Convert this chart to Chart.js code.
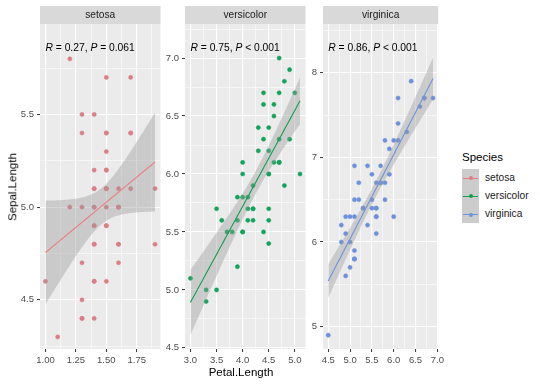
<!DOCTYPE html>
<html><head><meta charset="utf-8">
<script src="https://cdn.jsdelivr.net/npm/chart.js@4/dist/chart.umd.min.js"></script>
<style>
body{margin:0;background:#fff;width:540px;height:386px;position:relative;overflow:hidden;font-family:"Liberation Sans",Arial,sans-serif;}
canvas{position:absolute;top:0;}
.t{position:absolute;white-space:nowrap;line-height:1;}
.key{position:absolute;left:462px;width:17px;height:18.3px;background:#cccccc;}
.kl{position:absolute;left:1px;right:1px;top:9px;height:1px;}
.kp{position:absolute;left:6.5px;top:7.5px;width:4px;height:4px;border-radius:50%;}
</style></head><body>
<canvas id="c0" width="165" height="386" style="left:0px"></canvas>
<canvas id="c1" width="148" height="386" style="left:162px"></canvas>
<canvas id="c2" width="137" height="386" style="left:310px"></canvas>

<div class="t" id="ytitle" style="font-size:11.5px;color:#000;">Sepal.Length</div>
<div class="t" id="xtitle" style="font-size:11.5px;color:#000;">Petal.Length</div>

<div class="t" style="left:462px;top:152px;font-size:11.5px;color:#000;">Species</div>
<div class="key" style="top:168.5px"><div class="kl" style="background:#ef7b80"></div><div class="kp" style="background:#e07a82"></div></div>
<div class="key" style="top:186.8px"><div class="kl" style="background:#10a050"></div><div class="kp" style="background:#10a050"></div></div>
<div class="key" style="top:205.1px"><div class="kl" style="background:#6d93de"></div><div class="kp" style="background:#6d93de"></div></div>
<div class="t" style="left:485px;top:172.5px;font-size:10.2px;color:#1a1a1a;">setosa</div>
<div class="t" style="left:485px;top:190.8px;font-size:10.2px;color:#1a1a1a;">versicolor</div>
<div class="t" style="left:485px;top:209.1px;font-size:10.2px;color:#1a1a1a;">virginica</div>

<script>
// ---------- data (iris) ----------
const speciesNames = ['setosa', 'versicolor', 'virginica'];

const setosaPetalLength = [1.4,1.4,1.3,1.5,1.4,1.7,1.4,1.5,1.4,1.5,1.5,1.6,1.4,1.1,1.2,1.5,1.3,1.4,1.7,1.5,1.7,1.5,1.0,1.7,1.9,1.6,1.6,1.5,1.4,1.6,1.6,1.5,1.5,1.4,1.5,1.2,1.3,1.4,1.3,1.5,1.3,1.3,1.3,1.6,1.9,1.4,1.6,1.4,1.5,1.4];
const setosaSepalLength = [5.1,4.9,4.7,4.6,5.0,5.4,4.6,5.0,4.4,4.9,5.4,4.8,4.8,4.3,5.8,5.7,5.4,5.1,5.7,5.1,5.4,5.1,4.6,5.1,4.8,5.0,5.0,5.2,5.2,4.7,4.8,5.4,5.2,5.5,4.9,5.0,5.5,4.9,4.4,5.1,5.0,4.5,4.4,5.0,5.1,4.8,5.1,4.6,5.3,5.0];

const versicolorPetalLength = [4.7,4.5,4.9,4.0,4.6,4.5,4.7,3.3,4.6,3.9,3.5,4.2,4.0,4.7,3.6,4.4,4.5,4.1,4.5,3.9,4.8,4.0,4.9,4.7,4.3,4.4,4.8,5.0,4.5,3.5,3.8,3.7,3.9,5.1,4.5,4.5,4.7,4.4,4.1,4.0,4.4,4.6,4.0,3.3,4.2,4.2,4.2,4.3,3.0,4.1];
const versicolorSepalLength = [7.0,6.4,6.9,5.5,6.5,5.7,6.3,4.9,6.6,5.2,5.0,5.9,6.0,6.1,5.6,6.7,5.6,5.8,6.2,5.6,5.9,6.1,6.3,6.1,6.4,6.6,6.8,6.7,6.0,5.7,5.5,5.5,5.8,6.0,5.4,6.0,6.7,6.3,5.6,5.5,5.5,6.1,5.8,5.0,5.6,5.7,5.7,6.2,5.1,5.7];

const virginicaPetalLength = [6.0,5.1,5.9,5.6,5.8,6.6,4.5,6.3,5.8,6.1,5.1,5.3,5.5,5.0,5.1,5.3,5.5,6.7,6.9,5.0,5.7,4.9,6.7,4.9,5.7,6.0,4.8,4.9,5.6,5.8,6.1,6.4,5.6,5.1,5.6,6.1,5.6,5.5,4.8,5.4,5.6,5.1,5.1,5.9,5.7,5.2,5.0,5.2,5.4,5.1];
const virginicaSepalLength = [6.3,5.8,7.1,6.3,6.5,7.6,4.9,7.3,6.7,7.2,6.5,6.4,6.8,5.7,5.8,6.4,6.5,7.7,7.7,6.0,6.9,5.6,7.7,6.3,6.7,7.2,6.2,6.1,6.4,7.2,7.4,7.9,6.4,6.3,6.1,7.7,6.3,6.4,6.0,6.9,6.7,6.9,5.8,6.8,6.7,6.7,6.3,6.5,6.2,5.9];

// tick labels per panel
const setosaXTicks = [1.00, 1.25, 1.50, 1.75];
const setosaYTicks = [4.5, 5.0, 5.5];
const versicolorXTicks = [3.0, 3.5, 4.0, 4.5, 5.0];
const versicolorYTicks = [4.5, 5.0, 5.5, 6.0, 6.5, 7.0];
const virginicaXTicks = [4.5, 5.0, 5.5, 6.0, 6.5, 7.0];
const virginicaYTicks = [5, 6, 7, 8];

// correlation annotations
const corR = ['0.27', '0.75', '0.86'];
const corP = ['= 0.061', '< 0.001', '< 0.001'];

// ---------- styling / layout ----------
const FONT = "'Liberation Sans', Arial, sans-serif";
const pointColors = ['#dc7e86', '#12a55a', '#6c91dc'];
const lineColors = ['#ef7b80', '#10a050', '#6d93de'];
const T975 = 2.0106; // t quantile, df = 48

const panels = [
  {canvas:'c0', px: setosaPetalLength, py: setosaSepalLength, xt: setosaXTicks, yt: setosaYTicks, xdec:2, ydec:1,
   xmin:0.955, xmax:1.945, ymin:4.235, ymax:5.988, yw:40, pr:4},
  {canvas:'c1', px: versicolorPetalLength, py: versicolorSepalLength, xt: versicolorXTicks, yt: versicolorYTicks, xdec:1, ydec:1,
   xmin:2.895, xmax:5.205, ymin:4.49, ymax:7.294, yw:23, pr:4},
  {canvas:'c2', px: virginicaPetalLength, py: virginicaSepalLength, xt: virginicaXTicks, yt: virginicaYTicks, xdec:1, ydec:0,
   xmin:4.38, xmax:7.02, ymin:4.737, ymax:8.575, yw:13, pr:4}
];

function linearFit(xs, ys) {
  const n = xs.length;
  const mx = xs.reduce((a,b)=>a+b,0)/n, my = ys.reduce((a,b)=>a+b,0)/n;
  let sxx=0, sxy=0;
  for (let i=0;i<n;i++){ sxx += (xs[i]-mx)**2; sxy += (xs[i]-mx)*(ys[i]-my); }
  const b = sxy/sxx, a = my - b*mx;
  let rss = 0;
  for (let i=0;i<n;i++){ rss += (ys[i]-a-b*xs[i])**2; }
  const s = Math.sqrt(rss/(n-2));
  const lo = Math.min(...xs), hi = Math.max(...xs);
  const fit=[], upper=[], lower=[];
  const N = 80;
  for (let k=0;k<N;k++){
    const x = lo + (hi-lo)*k/(N-1);
    const y = a + b*x;
    const se = s*Math.sqrt(1/n + (x-mx)**2/sxx);
    fit.push({x, y}); upper.push({x, y: y+T975*se}); lower.push({x, y: y-T975*se});
  }
  return {fit, upper, lower};
}

function withMinor(major, min, max) {
  const step = major[1]-major[0];
  const out = [];
  const first = major[0] - step/2;
  for (let v = first; v <= major[major.length-1] + step/2 + 1e-9; v += step/2) {
    const r = Math.round(v*1000)/1000;
    if (r >= min - 1e-9 && r <= max + 1e-9) out.push(r);
  }
  return out;
}

const bgPlugin = {
  id: 'facetBg',
  beforeDraw(chart, args, opts) {
    const {ctx, chartArea: ca} = chart;
    ctx.save();
    ctx.fillStyle = '#ebebeb';
    ctx.fillRect(ca.left, ca.top, ca.right-ca.left, ca.bottom-ca.top);
    ctx.fillStyle = '#d9d9d9';
    ctx.fillRect(ca.left, ca.top-18, ca.right-ca.left, 18);
    ctx.fillStyle = '#1a1a1a';
    ctx.font = '10.2px ' + FONT;
    ctx.textAlign = 'center';
    ctx.textBaseline = 'middle';
    ctx.fillText(opts.strip, (ca.left+ca.right)/2, ca.top-8.5);
    ctx.restore();
  },
  afterDraw(chart, args, opts) {
    const {ctx, chartArea: ca} = chart;
    const x0 = chart.scales.x.getPixelForValue(opts.xstart);
    const y0 = ca.top + 27;
    const parts = [['R','italic '],[' = ' + opts.r + ', ',''],['P','italic '],[' ' + opts.p,'']];
    ctx.save();
    ctx.fillStyle = '#000';
    ctx.textBaseline = 'alphabetic';
    ctx.textAlign = 'left';
    let x = x0;
    for (const [txt, st] of parts) {
      ctx.font = st + '10.3px ' + FONT;
      ctx.fillText(txt, x, y0);
      x += ctx.measureText(txt).width;
    }
    ctx.restore();
  }
};

panels.forEach((p, i) => {
  const pts = p.px.map((x, k) => ({x, y: p.py[k]}));
  const f = linearFit(p.px, p.py);
  const xMajor = p.xt, yMajor = p.yt;
  const isMajor = (v, arr) => arr.some(m => Math.abs(m - v) < 1e-6);
  const gridWidth = (arr) => (ctx) => (ctx.tick && isMajor(ctx.tick.value, arr)) ? 1.1 : 0.55;
  const tickCol = (arr) => (ctx) => (ctx.tick && isMajor(ctx.tick.value, arr)) ? '#333333' : 'rgba(0,0,0,0)';
  new Chart(document.getElementById(p.canvas), {
    type: 'scatter',
    data: {
      datasets: [
        {type:'line', data: f.fit, borderColor: lineColors[i], borderWidth: 1.1, pointRadius: 0, fill: false, order: 0, tension: 0},
        {type:'line', data: f.upper, borderWidth: 0, borderColor: 'rgba(0,0,0,0)', pointRadius: 0,
         backgroundColor: 'rgba(153,153,153,0.4)', fill: '+1', order: 1, tension: 0},
        {type:'line', data: f.lower, borderWidth: 0, borderColor: 'rgba(0,0,0,0)', pointRadius: 0, fill: false, order: 1, tension: 0},
        {data: pts, backgroundColor: pointColors[i], borderColor: pointColors[i], borderWidth: 0.5, pointRadius: 2.1, order: 2}
      ]
    },
    options: {
      responsive: false, animation: false, devicePixelRatio: 1,
      layout: {padding: {left: 0, right: p.pr, top: 24, bottom: 0}},
      plugins: {legend: {display: false}, tooltip: {enabled: false},
        facetBg: {strip: speciesNames[i], xstart: Math.min(...p.px), r: corR[i], p: corP[i]}},
      scales: {
        x: {
          type: 'linear', min: p.xmin, max: p.xmax,
          afterBuildTicks: (s) => { s.ticks = withMinor(xMajor, p.xmin, p.xmax).map(v => ({value: v})); },
          afterFit: (s) => { s.height = 37; },
          border: {display: false},
          grid: {color: '#ffffff', lineWidth: gridWidth(xMajor), tickLength: 3, tickColor: tickCol(xMajor), tickWidth: 1},
          ticks: {autoSkip: false, maxRotation: 0, padding: 3, color: '#4d4d4d', font: {size: 9.5, family: FONT},
            callback: (v) => isMajor(v, xMajor) ? Number(v).toFixed(p.xdec) : ''}
        },
        y: {
          type: 'linear', min: p.ymin, max: p.ymax,
          afterBuildTicks: (s) => { s.ticks = withMinor(yMajor, p.ymin, p.ymax).map(v => ({value: v})); },
          afterFit: (s) => { s.width = p.yw; },
          border: {display: false},
          grid: {color: '#ffffff', lineWidth: gridWidth(yMajor), tickLength: 3, tickColor: tickCol(yMajor), tickWidth: 1},
          ticks: {autoSkip: false, padding: 3, color: '#4d4d4d', font: {size: 9.5, family: FONT},
            callback: (v) => isMajor(v, yMajor) ? Number(v).toFixed(p.ydec) : ''}
        }
      }
    },
    plugins: [bgPlugin]
  });
});

// axis titles
const yt = document.getElementById('ytitle');
yt.style.left = '13px'; yt.style.top = '186.5px';
yt.style.transform = 'translate(-50%,-50%) rotate(-90deg)';
const xt = document.getElementById('xtitle');
xt.style.left = '241px'; xt.style.top = '373px';
xt.style.transform = 'translate(-50%,-50%)';
</script>
</body></html>
